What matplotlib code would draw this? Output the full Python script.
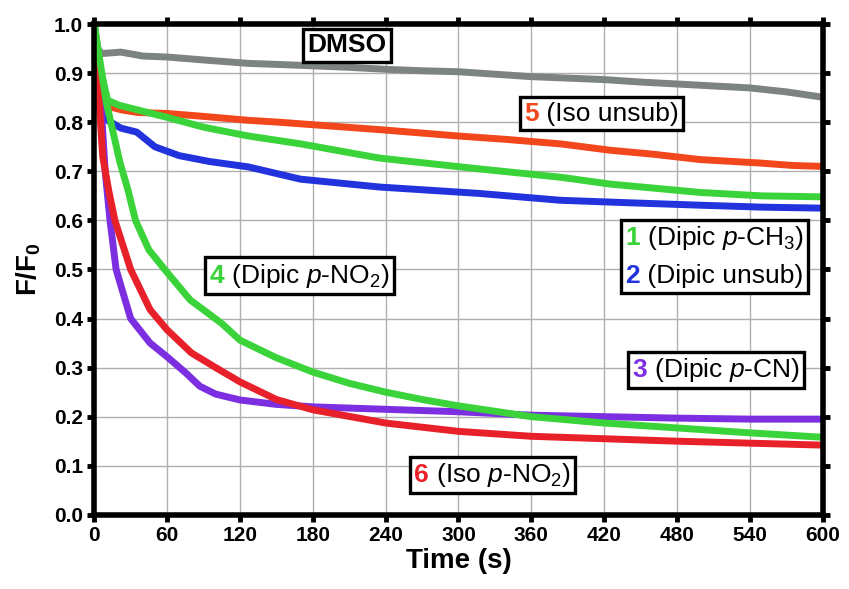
import matplotlib
matplotlib.use("Agg")
import matplotlib.pyplot as plt
from matplotlib.offsetbox import TextArea, HPacker, VPacker, AnnotationBbox

plt.rcParams['font.family'] = ['Liberation Sans', 'DejaVu Sans']
plt.rcParams['mathtext.fontset'] = 'custom'
plt.rcParams['mathtext.rm'] = 'Liberation Sans'
plt.rcParams['mathtext.it'] = 'Liberation Sans:italic'
plt.rcParams['mathtext.bf'] = 'Liberation Sans:bold'

# ---- data ----
t_gray = [0, 3, 6, 22, 40, 60, 90, 127, 150, 180, 210, 240, 270, 300, 330, 360, 390, 420, 450, 480, 510, 540, 570, 600]
v_gray = [1.0, 0.95, 0.94, 0.943, 0.935, 0.933, 0.927, 0.92, 0.918, 0.915, 0.912, 0.908, 0.905, 0.903, 0.898, 0.893, 0.89, 0.887, 0.882, 0.878, 0.874, 0.87, 0.862, 0.851]

t_5 = [0, 3, 6, 15, 23, 36, 60, 90, 127, 153, 180, 235, 270, 300, 340, 384, 425, 460, 499, 548, 575, 600]
v_5 = [1.0, 0.88, 0.84, 0.83, 0.825, 0.82, 0.818, 0.812, 0.804, 0.8, 0.795, 0.785, 0.778, 0.772, 0.765, 0.756, 0.743, 0.735, 0.724, 0.717, 0.712, 0.71]

t_1 = [0, 4, 11, 20, 36, 60, 90, 127, 170, 235, 317, 384, 425, 499, 550, 600]
v_1 = [1.0, 0.92, 0.845, 0.835, 0.825, 0.81, 0.79, 0.772, 0.756, 0.727, 0.705, 0.688, 0.674, 0.657, 0.65, 0.648]

t_2 = [0, 3, 7, 11, 22, 35, 50, 70, 95, 127, 170, 235, 317, 384, 440, 499, 550, 600]
v_2 = [1.0, 0.9, 0.83, 0.804, 0.788, 0.78, 0.75, 0.732, 0.72, 0.709, 0.684, 0.668, 0.655, 0.641, 0.636, 0.631, 0.627, 0.625]

t_4 = [0, 5, 10, 21, 28, 34, 45, 58, 79, 105, 120, 150, 180, 210, 240, 270, 300, 360, 420, 480, 540, 600]
v_4 = [1.0, 0.92, 0.84, 0.72, 0.66, 0.6, 0.54, 0.5, 0.438, 0.39, 0.356, 0.32, 0.291, 0.268, 0.25, 0.235, 0.222, 0.2, 0.187, 0.177, 0.167, 0.158]

t_6 = [0, 3, 7, 12, 17, 30, 46, 60, 80, 100, 120, 150, 180, 240, 300, 360, 420, 480, 540, 600]
v_6 = [1.0, 0.88, 0.73, 0.66, 0.6, 0.5, 0.418, 0.377, 0.33, 0.3, 0.271, 0.235, 0.214, 0.187, 0.17, 0.16, 0.155, 0.15, 0.146, 0.142]

t_3 = [0, 3, 6, 9, 13, 18, 30, 46, 60, 75, 87, 100, 120, 150, 180, 240, 300, 360, 420, 480, 540, 600]
v_3 = [1.0, 0.92, 0.82, 0.7, 0.6, 0.5, 0.4, 0.35, 0.322, 0.29, 0.262, 0.246, 0.234, 0.225, 0.22, 0.215, 0.21, 0.203, 0.2, 0.197, 0.195, 0.195]

x_ticks = [0, 60, 120, 180, 240, 300, 360, 420, 480, 540, 600]
y_ticks = [0.0, 0.1, 0.2, 0.3, 0.4, 0.5, 0.6, 0.7, 0.8, 0.9, 1.0]

c_gray = '#7d8282'
c_5 = '#f2461c'
c_1 = '#3ad43a'
c_2 = '#2233dd'
c_4 = '#3ad43a'
c_6 = '#e8202a'
c_3 = '#7b2fe0'

fig = plt.figure(figsize=(8.49, 5.89), dpi=100)
ax = fig.add_axes([0.111, 0.126, 0.858, 0.833])

lw = 5
for t, v, c in [(t_gray, v_gray, c_gray), (t_5, v_5, c_5), (t_2, v_2, c_2), (t_1, v_1, c_1),
                (t_3, v_3, c_3), (t_6, v_6, c_6), (t_4, v_4, c_4)]:
    ax.plot(t, v, color=c, lw=lw, solid_capstyle='round', solid_joinstyle='round', zorder=3)

ax.set_xlim(0, 600)
ax.set_ylim(0, 1.0)
ax.set_xticks(x_ticks)
ax.set_yticks(y_ticks)
ax.set_yticklabels([f"{v:.1f}" for v in y_ticks])
ax.grid(True, color='#b0b0b0', lw=1.0, zorder=0)
ax.tick_params(direction='out', length=5, width=3.5, labelsize=15, pad=3,
               top=True, right=True, labeltop=False, labelright=False)
for lab in ax.get_xticklabels() + ax.get_yticklabels():
    lab.set_fontweight('bold')
for s in ax.spines.values():
    s.set_linewidth(4)
    s.set_zorder(5)

ax.set_xlabel('Time (s)', fontsize=20, fontweight='bold', labelpad=2)
ax.set_ylabel(r'F/F$_\mathbf{0}$', fontsize=20, fontweight='bold', labelpad=8)

fs = 19

def label_row(num, color, rest):
    return HPacker(children=[TextArea(num, textprops=dict(color=color, fontsize=fs, fontweight='bold')),
                             TextArea(rest, textprops=dict(color='black', fontsize=fs))],
                   pad=0, sep=0, align='baseline')

def boxed(child, xy):
    ab = AnnotationBbox(child, xy, xycoords='data', frameon=True, pad=0.32,
                        bboxprops=dict(edgecolor='black', linewidth=2.4, facecolor='white',
                                       boxstyle='square,pad=0.32'))
    ab.set_zorder(6)
    ax.add_artist(ab)

boxed(TextArea('DMSO', textprops=dict(fontsize=fs, fontweight='bold')), (208, 0.957))
boxed(label_row('5', c_5, ' (Iso unsub)'), (418, 0.817))
boxed(VPacker(children=[label_row('1', c_1, r' (Dipic $\it{p}$-CH$_3$)'),
                        label_row('2', c_2, ' (Dipic unsub)')], pad=0, sep=9, align='left'),
      (511, 0.527))
boxed(label_row('4', c_4, r' (Dipic $\it{p}$-NO$_2$)'), (169, 0.487))
boxed(label_row('3', c_3, r' (Dipic $\it{p}$-CN)'), (512, 0.295))
boxed(label_row('6', c_6, r' (Iso $\it{p}$-NO$_2$)'), (328, 0.081))

fig.savefig('out.png', dpi=100)
